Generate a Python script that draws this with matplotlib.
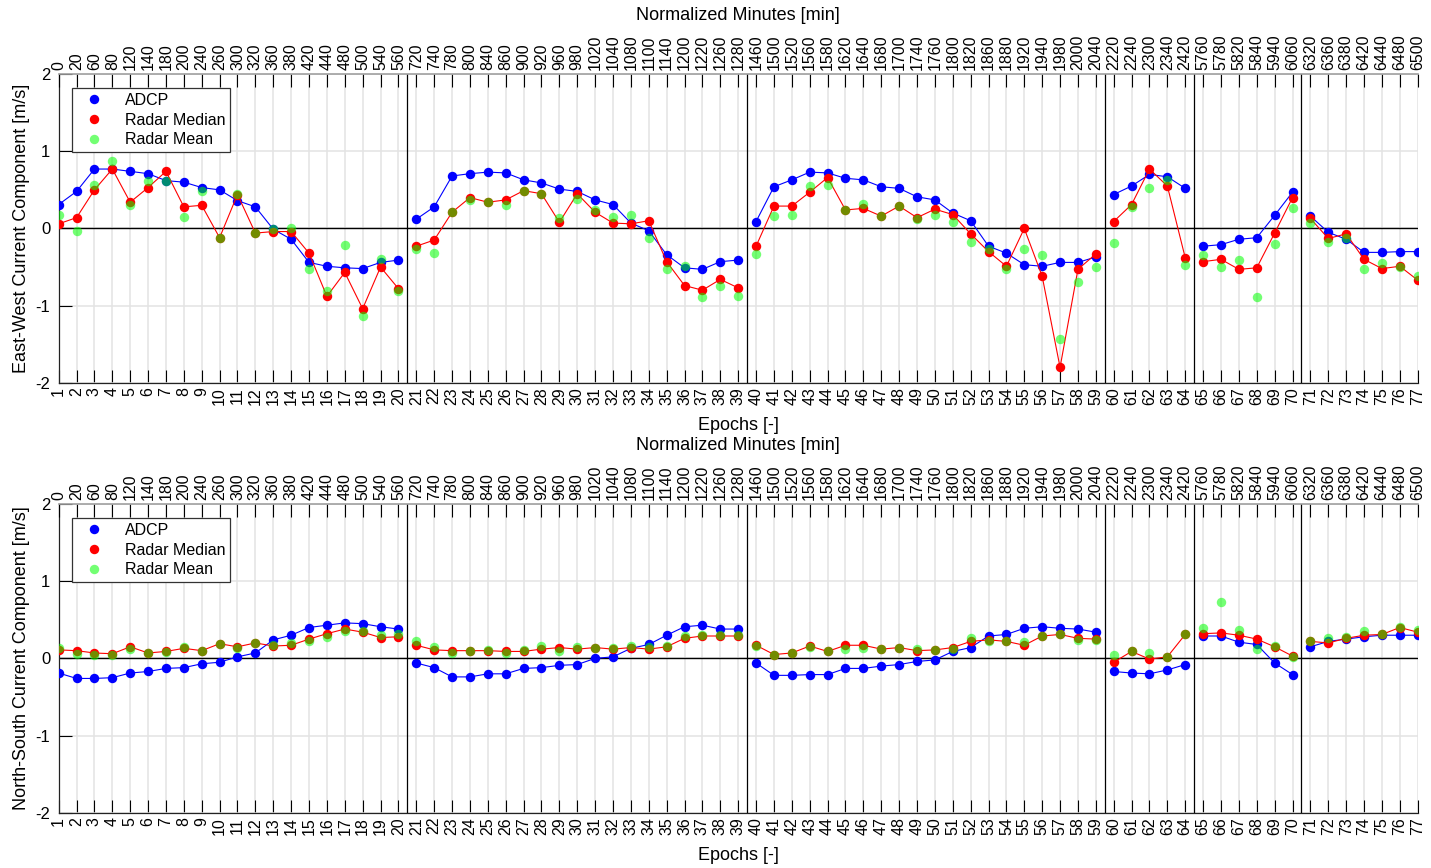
import numpy as np
import matplotlib.pyplot as plt
from matplotlib.lines import Line2D

plt.rcParams['font.family'] = ['Liberation Sans', 'DejaVu Sans']
plt.rcParams['axes.unicode_minus'] = False

epochs = list(range(1, 78))
minutes = [0, 20, 60, 80, 120, 140, 180, 200, 240, 260, 300, 320, 360, 380, 420, 440, 480, 500, 540, 560,
           720, 740, 780, 800, 840, 860, 900, 920, 960, 980, 1020, 1040, 1080, 1100, 1140, 1200, 1220, 1260, 1280,
           1460, 1500, 1520, 1560, 1580, 1620, 1640, 1680, 1700, 1740, 1760, 1800, 1820, 1860, 1880, 1920, 1940,
           1980, 2000, 2040,
           2220, 2240, 2300, 2340, 2420,
           5760, 5780, 5820, 5840, 5940, 6060,
           6320, 6360, 6380, 6420, 6440, 6480, 6500]
# last epoch of each continuous run
segment_ends = [20, 39, 59, 64, 70, 77]

# East-West component
ew_adcp = [0.31, 0.48, 0.77, 0.77, 0.74, 0.71, 0.62, 0.60, 0.53, 0.50, 0.36, 0.28, -0.01, -0.14, -0.44, -0.49, -0.51, -0.52, -0.44, -0.41,
           0.12, 0.28, 0.68, 0.71, 0.73, 0.72, 0.63, 0.59, 0.51, 0.48, 0.37, 0.31, 0.07, -0.03, -0.34, -0.51, -0.53, -0.43, -0.41,
           0.09, 0.54, 0.63, 0.73, 0.72, 0.65, 0.63, 0.54, 0.52, 0.41, 0.37, 0.20, 0.10, -0.23, -0.32, -0.47, -0.49, -0.44, -0.44, -0.37,
           0.44, 0.55, 0.70, 0.67, 0.52,
           -0.23, -0.21, -0.14, -0.12, 0.17, 0.47,
           0.16, -0.05, -0.14, -0.31, -0.31, -0.30, -0.30]
ew_median = [0.06, 0.14, 0.50, 0.77, 0.34, 0.53, 0.74, 0.28, 0.30, -0.12, 0.44, -0.06, -0.04, -0.04, -0.32, -0.88, -0.57, -1.04, -0.50, -0.78,
             -0.23, -0.15, 0.21, 0.40, 0.34, 0.37, 0.49, 0.45, 0.08, 0.45, 0.21, 0.07, 0.06, 0.10, -0.43, -0.74, -0.80, -0.66, -0.77,
             -0.23, 0.29, 0.29, 0.47, 0.66, 0.24, 0.26, 0.16, 0.29, 0.14, 0.25, 0.18, -0.07, -0.30, -0.49, 0.00, -0.62, -1.80, -0.53, -0.33,
             0.09, 0.31, 0.77, 0.55, -0.38,
             -0.43, -0.40, -0.53, -0.51, -0.06, 0.40,
             0.13, -0.13, -0.07, -0.40, -0.52, -0.49, -0.67]
ew_mean = [0.17, -0.03, 0.56, 0.87, 0.30, 0.62, 0.62, 0.15, 0.49, -0.13, 0.45, -0.06, -0.01, 0.01, -0.53, -0.81, -0.21, -1.14, -0.40, -0.81,
           -0.26, -0.32, 0.21, 0.37, 0.34, 0.31, 0.49, 0.45, 0.14, 0.38, 0.24, 0.15, 0.17, -0.12, -0.53, -0.49, -0.89, -0.74, -0.87,
           -0.33, 0.16, 0.18, 0.55, 0.56, 0.24, 0.32, 0.16, 0.29, 0.12, 0.18, 0.08, -0.17, -0.27, -0.53, -0.27, -0.34, -1.43, -0.69, -0.50,
           -0.19, 0.28, 0.53, 0.63, -0.47,
           -0.34, -0.50, -0.41, -0.89, -0.20, 0.26,
           0.07, -0.18, -0.13, -0.53, -0.45, -0.50, -0.61]

# North-South component
ns_adcp = [-0.19, -0.26, -0.26, -0.25, -0.19, -0.17, -0.13, -0.12, -0.07, -0.05, 0.02, 0.07, 0.24, 0.30, 0.40, 0.43, 0.46, 0.45, 0.41, 0.38,
           -0.06, -0.12, -0.24, -0.24, -0.20, -0.20, -0.13, -0.12, -0.09, -0.08, 0.00, 0.02, 0.13, 0.18, 0.30, 0.41, 0.43, 0.38, 0.38,
           -0.06, -0.22, -0.22, -0.21, -0.21, -0.13, -0.13, -0.10, -0.08, -0.04, -0.02, 0.09, 0.14, 0.29, 0.31, 0.39, 0.41, 0.39, 0.38, 0.34,
           -0.17, -0.19, -0.20, -0.15, -0.08,
           0.29, 0.29, 0.21, 0.18, -0.06, -0.21,
           0.15, 0.22, 0.25, 0.28, 0.30, 0.30, 0.30]
ns_median = [0.11, 0.10, 0.07, 0.06, 0.15, 0.07, 0.09, 0.13, 0.10, 0.19, 0.15, 0.20, 0.16, 0.17, 0.25, 0.32, 0.38, 0.34, 0.27, 0.28,
             0.17, 0.11, 0.10, 0.10, 0.10, 0.09, 0.09, 0.12, 0.14, 0.12, 0.14, 0.12, 0.14, 0.12, 0.15, 0.26, 0.29, 0.29, 0.29,
             0.17, 0.05, 0.07, 0.16, 0.09, 0.17, 0.17, 0.12, 0.14, 0.10, 0.11, 0.14, 0.22, 0.24, 0.22, 0.17, 0.29, 0.31, 0.26, 0.25,
             -0.05, 0.09, -0.01, 0.02, 0.31,
             0.32, 0.33, 0.30, 0.25, 0.15, 0.03,
             0.22, 0.20, 0.26, 0.30, 0.31, 0.40, 0.34]
ns_mean = [0.13, 0.06, 0.05, 0.05, 0.12, 0.07, 0.08, 0.15, 0.09, 0.19, 0.13, 0.20, 0.17, 0.20, 0.22, 0.28, 0.36, 0.35, 0.30, 0.32,
           0.23, 0.15, 0.07, 0.10, 0.11, 0.07, 0.11, 0.16, 0.09, 0.15, 0.13, 0.13, 0.16, 0.15, 0.16, 0.29, 0.30, 0.30, 0.30,
           0.16, 0.05, 0.07, 0.15, 0.09, 0.12, 0.13, 0.12, 0.13, 0.12, 0.11, 0.12, 0.26, 0.22, 0.22, 0.21, 0.29, 0.31, 0.24, 0.24,
           0.05, 0.09, 0.07, 0.02, 0.31,
           0.39, 0.73, 0.37, 0.12, 0.16, 0.02,
           0.23, 0.26, 0.28, 0.36, 0.31, 0.41, 0.37]

GREEN = (0.0, 1.0, 0.0, 0.55)


def panel(rect, adcp, median, mean, ylabel):
    ax = fig.add_axes(rect)
    ax.set_axisbelow(True)
    ep = np.array(epochs)
    a, m, g = np.array(adcp), np.array(median), np.array(mean)
    start = 0
    for end in segment_ends:
        sl = slice(start, end)
        ax.plot(ep[sl], a[sl], '-', color='blue', lw=0.8, zorder=3)
        ax.plot(ep[sl], a[sl], 'o', color='blue', ms=6.8, mec='none', zorder=3)
        ax.plot(ep[sl], m[sl], '-', color='red', lw=0.8, zorder=4)
        ax.plot(ep[sl], m[sl], 'o', color='red', ms=6.8, mec='none', zorder=4)
        if end != segment_ends[-1]:
            ax.axvline(end + 0.5, color='black', lw=0.9, zorder=2)
        start = end
    ax.plot(ep, g, 'o', color=GREEN, ms=6.8, mec='none', zorder=5)
    ax.axhline(0, color='black', lw=1, zorder=2)

    ax.set_xlim(1, 77)
    ax.set_ylim(-2, 2)
    ax.set_xticks(epochs)
    ax.set_xticklabels([str(e) for e in epochs], rotation=90)
    ax.set_yticks([-2, -1, 0, 1, 2])
    ax.tick_params(axis='both', direction='in', length=9.5, width=0.8, labelsize=12)
    ax.tick_params(axis='x', pad=3, labelsize=11.5)
    ax.tick_params(axis='y', pad=6)
    ax.grid(True, color='#e3e3e3', lw=1.1)
    ax.set_xlabel('Epochs [-]', fontsize=13, labelpad=9)
    ax.set_ylabel(ylabel, fontsize=13, labelpad=4)
    ax.spines['right'].set_visible(False)
    ax.spines['top'].set_visible(False)
    for s in ['left', 'bottom']:
        ax.spines[s].set_color('#222222')
        ax.spines[s].set_linewidth(0.9)

    ax2 = ax.twiny()
    ax2.set_xlim(1, 77)
    ax2.set_xticks(epochs)
    ax2.set_xticklabels([str(v) for v in minutes], rotation=90)
    ax2.tick_params(axis='x', direction='in', length=9.5, width=0.8, pad=3, labelsize=11.5)
    ax2.set_xlabel('Normalized Minutes [min]', fontsize=13, labelpad=10)
    for s in ['left', 'right', 'bottom']:
        ax2.spines[s].set_visible(False)
    ax2.spines['top'].set_color('#a0a0a0')
    ax2.spines['top'].set_linewidth(1.2)

    handles = [Line2D([], [], ls='none', marker='o', ms=6.8, color='blue', mec='none'),
               Line2D([], [], ls='none', marker='o', ms=6.8, color='red', mec='none'),
               Line2D([], [], ls='none', marker='o', ms=6.8, color=GREEN, mec='none')]
    leg = ax.legend(handles, ['ADCP', 'Radar Median', 'Radar Mean'], loc='upper left',
                    bbox_to_anchor=(0.0098, 0.955), fontsize=11.5, frameon=True, fancybox=False,
                    framealpha=1, edgecolor='#333333', borderpad=0.3, labelspacing=0.3,
                    handletextpad=0.8, handlelength=2.2, borderaxespad=0)
    leg.get_frame().set_linewidth(0.9)
    leg.set_zorder(10)
    return ax


fig = plt.figure(figsize=(14.31, 8.68), dpi=100)
panel([0.041, 0.559, 0.9497, 0.3556], ew_adcp, ew_median, ew_mean, 'East-West Current Component [m/s]')
panel([0.041, 0.0637, 0.9497, 0.3556], ns_adcp, ns_median, ns_mean, 'North-South Current Component [m/s]')
fig.savefig('out.png', dpi=100)
